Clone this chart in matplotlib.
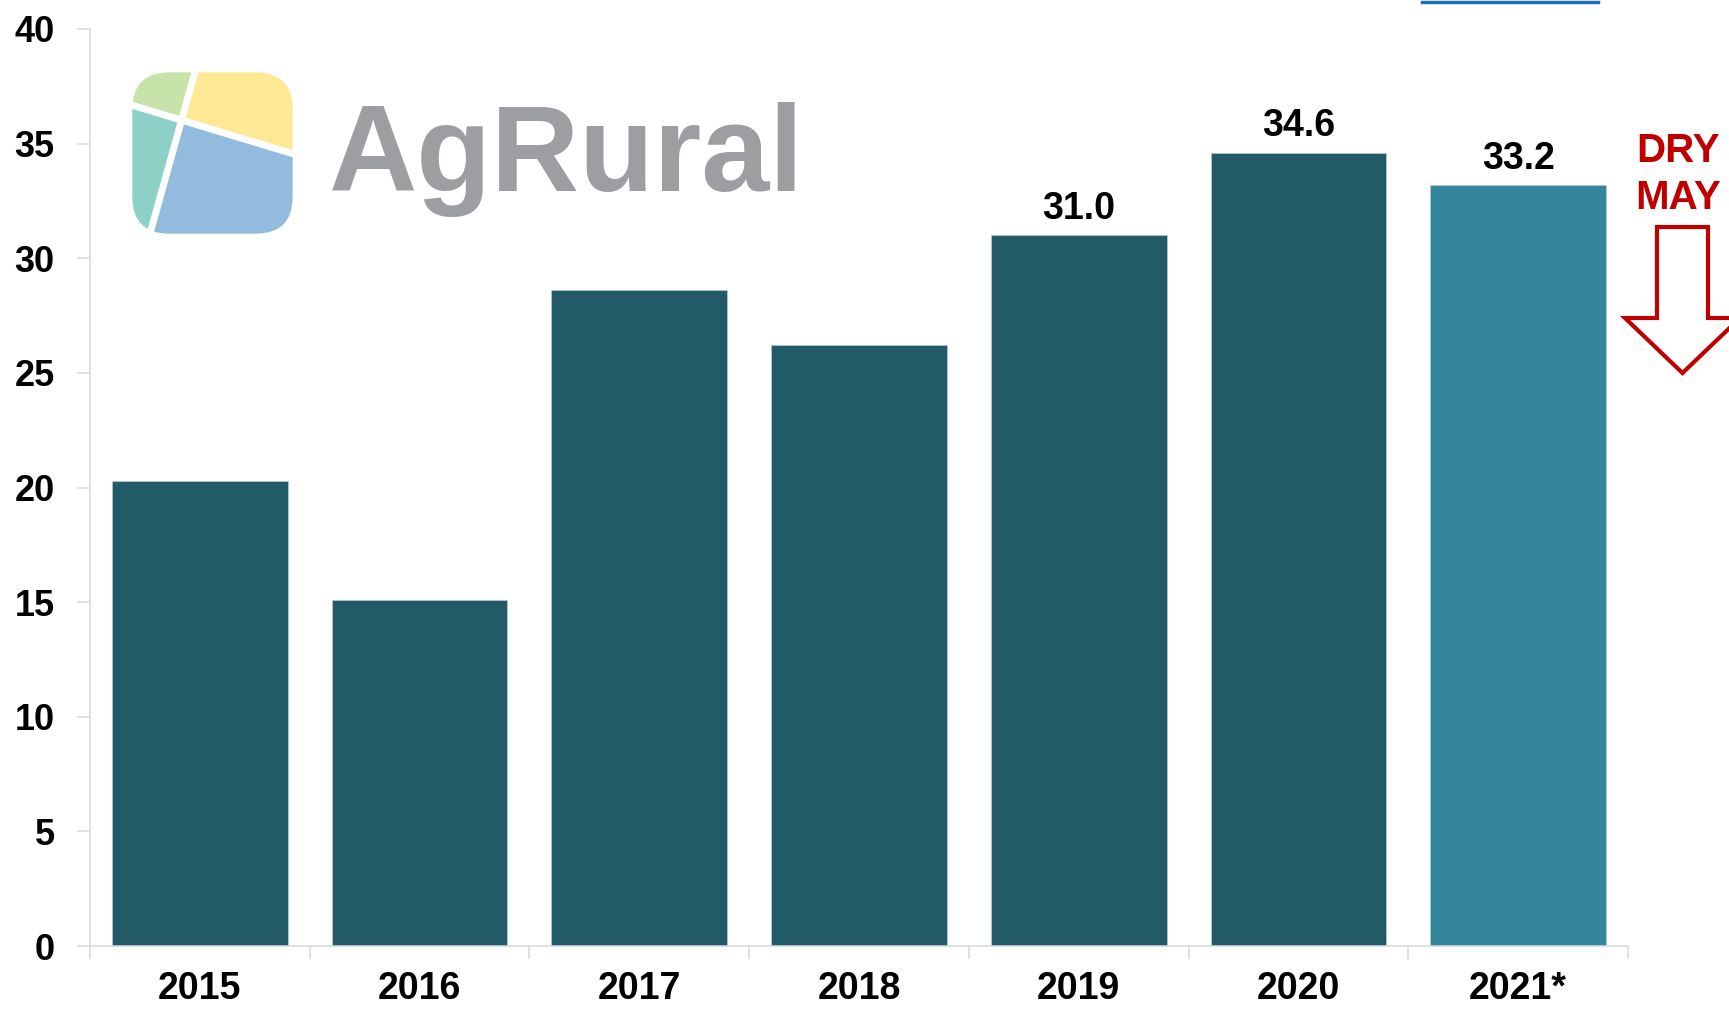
import matplotlib
matplotlib.use("Agg")
import matplotlib.pyplot as plt
from matplotlib.patches import Polygon, FancyBboxPatch
from matplotlib.lines import Line2D

years = ['2015', '2016', '2017', '2018', '2019', '2020', '2021*']
volumes = [20.3, 15.1, 28.6, 26.2, 31.0, 34.6, 33.2]
labelled = ['2019', '2020', '2021*']   # bars with a number on top
bar_colors = ['#235A68'] * 6 + ['#33869C']

W, H = 1729, 1009
plt.rcParams['font.family'] = ['Liberation Sans', 'DejaVu Sans']

fig = plt.figure(figsize=(W / 100, H / 100), dpi=100)
ax = fig.add_axes([90 / W, 63 / H, 1538 / W, 917 / H])

xs = list(range(len(years)))
bars = ax.bar(xs, volumes, width=0.8, color=bar_colors, edgecolor='#B9CDD3', linewidth=0.5, zorder=2)

for b, yr, v in zip(bars, years, volumes):
    if yr in labelled:
        ax.annotate(f'{v:.1f}', (b.get_x() + b.get_width() / 2, v), xytext=(0, 6),
                    textcoords='offset points', ha='center', va='bottom',
                    fontsize=27, fontweight='bold', color='black')

ax.set_xlim(-0.5, len(years) - 0.5)
ax.set_ylim(0, 40)
ax.set_yticks(range(0, 41, 5))
ax.set_xticks(xs)
ax.set_xticklabels(years)
ax.set_xticks([i - 0.5 for i in range(len(years) + 1)], minor=True)

for s in ['top', 'right']:
    ax.spines[s].set_visible(False)
for s in ['left', 'bottom']:
    ax.spines[s].set_color('#D9D9D9')
    ax.spines[s].set_linewidth(1.1)

ax.tick_params(axis='y', direction='out', length=9.4, width=1.1, color='#D9D9D9', pad=16,
               labelsize=26, labelcolor='black')
ax.tick_params(axis='x', which='major', length=0, pad=18, labelsize=27, labelcolor='black')
ax.tick_params(axis='x', which='minor', direction='out', length=9.4, width=1.1, color='#D9D9D9')
for lab in ax.get_xticklabels() + ax.get_yticklabels():
    lab.set_fontweight('bold')

# DRY MAY note with hollow arrow
fig.text(1678 / W, 1 - 174 / H, 'DRY\nMAY', ha='center', va='center', fontsize=29,
         fontweight='bold', color='#C00000', linespacing=1.3)
arrow_px = [(1657, 227), (1708, 227), (1708, 318), (1740, 318), (1682.5, 373),
            (1625, 318), (1657, 318)]
fig.patches.append(Polygon([(x / W, 1 - y / H) for x, y in arrow_px], closed=True,
                           transform=fig.transFigure, facecolor='white',
                           edgecolor='#C00000', linewidth=3))

# blue mark at the top edge
fig.lines.append(Line2D([1422 / W, 1598 / W], [1 - 1.5 / H, 1 - 1.5 / H],
                        transform=fig.transFigure, color='#1F6FB8', linewidth=2.5))

# AgRural logo
lg = fig.add_axes([129 / W, 1 - 237 / H, 167 / W, 168 / H])
lg.set_xlim(0, 1)
lg.set_ylim(0, 1)
lg.axis('off')
clip = FancyBboxPatch((0.02, 0.02), 0.96, 0.96, boxstyle='round,pad=0,rounding_size=0.22',
                      facecolor='none', edgecolor='none', transform=lg.transData)
lg.add_patch(clip)
# intersection of the two white cuts
ix = (0.12 + 0.28 * 0.79) / (1 + 0.28 * 0.30)
iy = 0.79 - 0.30 * ix
pieces = [
    ([(ix, iy), (0.40, 1), (0, 1), (0, 0.79)], '#C8E3A9'),
    ([(ix, iy), (0.40, 1), (1, 1), (1, 0.49)], '#FDE896'),
    ([(ix, iy), (0, 0.79), (0, 0), (0.12, 0)], '#8CD0C6'),
    ([(ix, iy), (0.12, 0), (1, 0), (1, 0.49)], '#93BBDD'),
]
for pts, c in pieces:
    p = Polygon(pts, closed=True, facecolor=c, edgecolor='none')
    lg.add_patch(p)
    p.set_clip_path(clip)
lg.plot([0.40, 0.12], [1, 0], color='white', linewidth=5)
lg.plot([0, 1], [0.79, 0.49], color='white', linewidth=5)

fig.text(329 / W, 1 - 191 / H, 'AgRural', ha='left', va='baseline', fontsize=88,
         fontweight='bold', color='#9C9EA1')

fig.savefig('out.png', dpi=100, facecolor='white')
